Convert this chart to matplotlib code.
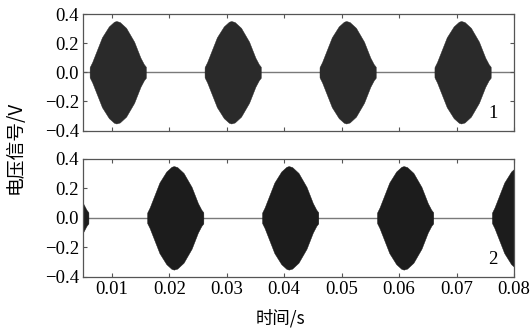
import numpy as np
from matplotlib import pyplot as plt

plt.rcParams['font.family'] = ['serif']
plt.rcParams['font.serif'] = ['Liberation Serif', 'DejaVu Serif']
plt.rcParams['axes.unicode_minus'] = True

# burst centres (s) for each channel
centers_1 = [0.011, 0.031, 0.051, 0.071]
centers_2 = [0.001, 0.021, 0.041, 0.061, 0.081]

# envelope of one burst: offset from centre (ms) -> amplitude (V)
env_offset_ms = [-4.85, -4.84, -4.4, -3.8, -2.7, -1.5, -0.6, -0.2, 0.4,
                 1.5, 2.9, 4.0, 4.6, 4.94, 4.95]
env_amp = [0.0, 0.035, 0.07, 0.13, 0.24, 0.315, 0.347, 0.352, 0.345,
           0.305, 0.21, 0.10, 0.055, 0.038, 0.0]

xlim = (0.005, 0.08)
yticks = [-0.4, -0.2, 0.0, 0.2, 0.4]
xticks = [0.01, 0.02, 0.03, 0.04, 0.05, 0.06, 0.07, 0.08]
xticklabels = ["0.01", "0.02", "0.03", "0.04", "0.05", "0.06", "0.07", "0.08"]
yticklabels = ["\u22120.4", "\u22120.2", "0.0", "0.2", "0.4"]

cjk = ['Noto Sans CJK SC', 'Liberation Serif']


def draw_channel(ax, centers, color, tag):
    ax.axhline(0, color="#7a7a7a", lw=1.0, zorder=1)
    for c in centers:
        t = c + np.array(env_offset_ms) / 1000.0
        a = np.array(env_amp)
        ax.fill_between(t, -a, a, color=color, lw=0.3, zorder=2)
    ax.set_xlim(*xlim)
    ax.set_ylim(-0.4, 0.4)
    ax.set_yticks(yticks)
    ax.set_yticklabels(yticklabels, family='Liberation Serif', fontsize=13.5)
    ax.set_xticks(xticks)
    ax.tick_params(direction="in", top=True, right=True, length=3,
                   color="#555555", pad=3)
    for s in ax.spines.values():
        s.set_color("#555555")
        s.set_linewidth(0.9)
    ax.text(0.962, 0.07, tag, transform=ax.transAxes, fontsize=13.5,
            ha="right", va="bottom", family='Liberation Serif')


fig = plt.figure(figsize=(5.31, 3.36), dpi=100)
ax1 = fig.add_axes([0.1563, 0.6116, 0.8117, 0.3467])
ax2 = fig.add_axes([0.1563, 0.1765, 0.8117, 0.3503])

draw_channel(ax1, centers_1, "#2a2a2a", "1")
draw_channel(ax2, centers_2, "#1c1c1c", "2")
ax1.set_xticklabels([])
ax2.set_xticklabels(xticklabels, family='Liberation Serif', fontsize=13.5)

fig.text(0.028, 0.56, "电压信号/V", rotation=90, ha="center", va="center",
         fontsize=13.5, family=cjk)
fig.text(0.529, 0.052, "时间/s", ha="center", va="center", fontsize=12.5,
         family=cjk)

fig.savefig("out.png", dpi=100)
